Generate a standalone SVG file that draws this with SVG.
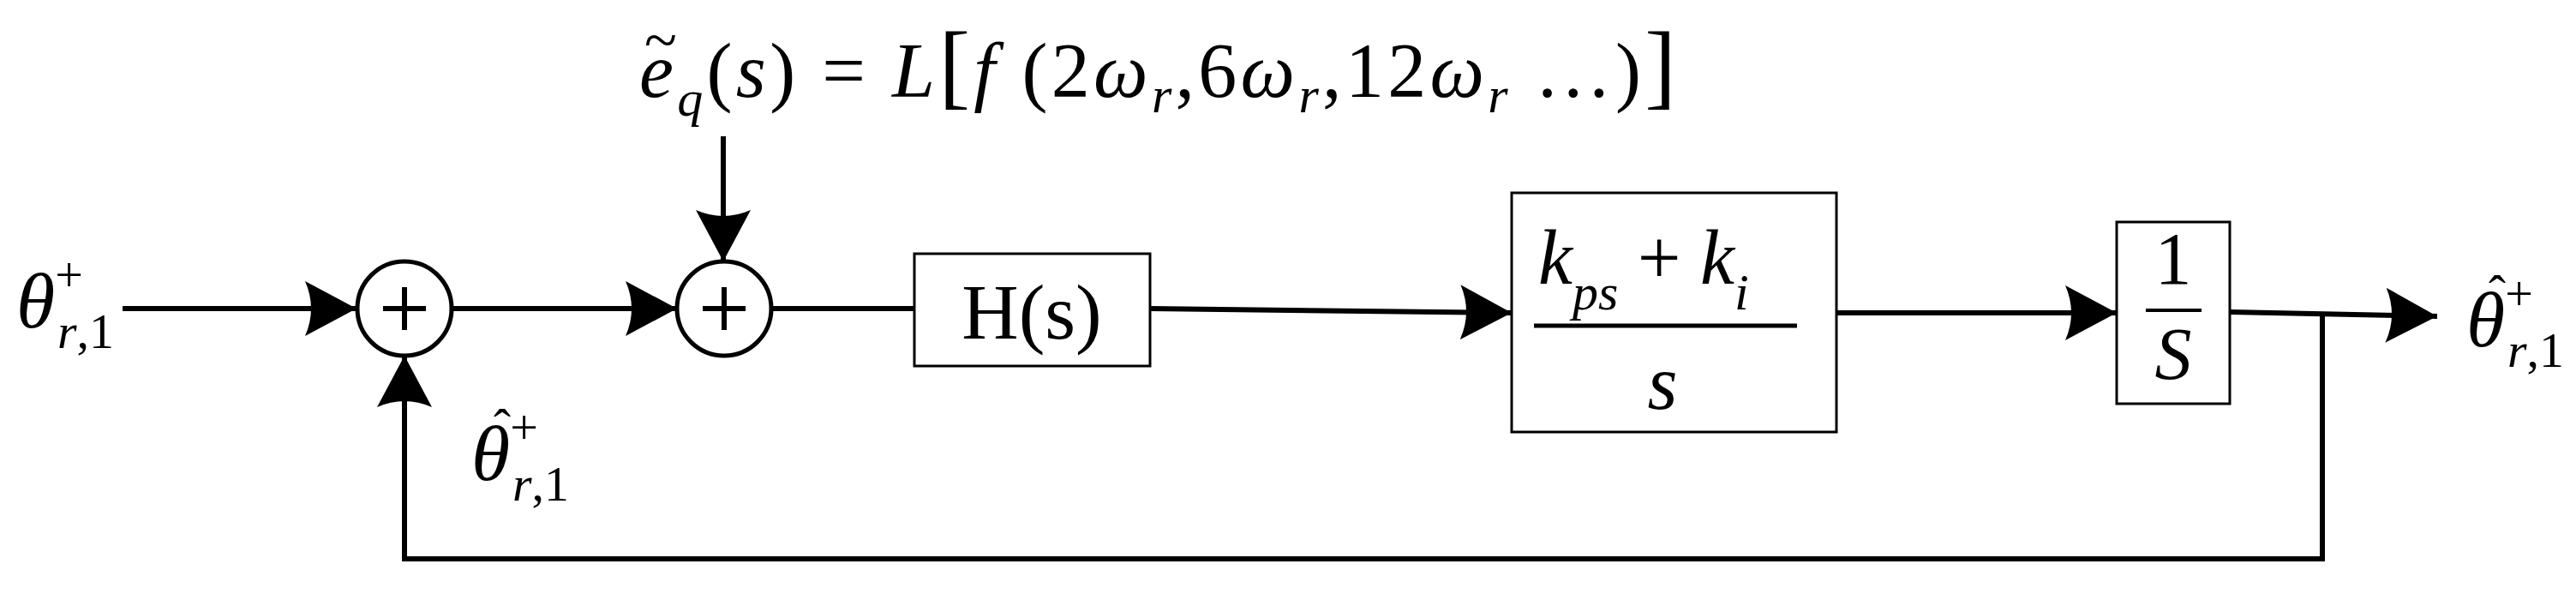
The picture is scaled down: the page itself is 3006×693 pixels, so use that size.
<svg xmlns="http://www.w3.org/2000/svg" width="3006" height="693" viewBox="0 0 3006 693">
<style>
.t{font-family:"Liberation Serif",serif;fill:#000}
.i{font-style:italic}
.c{fill:none;stroke:#000;stroke-width:6}
.b{fill:#fff;stroke:#000;stroke-width:3}
.s{fill:#fff;stroke:#000;stroke-width:5}
</style>
<defs>
<marker id="a" markerUnits="userSpaceOnUse" markerWidth="70" markerHeight="70" refX="60" refY="32" orient="auto">
<path d="M0,0 L60,32 L0,64 Q14,32 0,0 Z" fill="#000"/>
</marker>
</defs>
<g id="connectors">
<line class="c" x1="143" y1="360" x2="416" y2="360" marker-end="url(#a)"/>
<line class="c" x1="528" y1="360" x2="790" y2="360" marker-end="url(#a)"/>
<line class="c" x1="844" y1="159" x2="844" y2="305" marker-end="url(#a)"/>
<line class="c" x1="900" y1="360" x2="1067" y2="360"/>
<line class="c" x1="1342" y1="360" x2="1764" y2="365" marker-end="url(#a)"/>
<line class="c" x1="2143" y1="365" x2="2470" y2="365" marker-end="url(#a)"/>
<line class="c" x1="2602" y1="364" x2="2844" y2="369" marker-end="url(#a)"/>
<polyline class="c" points="2710,366 2710,652 472,652 472,415" marker-end="url(#a)"/>
</g>
<g id="sum1"><circle class="s" cx="472" cy="360" r="55"/><line class="c" x1="447" y1="360" x2="497" y2="360" stroke-width="3"/><line class="c" x1="472" y1="335" x2="472" y2="385" stroke-width="3"/></g>
<g id="sum2"><circle class="s" cx="845" cy="360" r="55"/><line class="c" x1="820" y1="360" x2="870" y2="360" stroke-width="3"/><line class="c" x1="845" y1="335" x2="845" y2="385" stroke-width="3"/></g>
<g id="H"><rect class="b" x="1067" y="296" width="275" height="131"/><text class="t" x="1204" y="395" font-size="92" text-anchor="middle">H(s)</text></g>
<g id="PI"><rect class="b" x="1764" y="225" width="379" height="279"/>
<text class="t" x="1795" y="331" font-size="90"><tspan class="i">k</tspan><tspan class="i" font-size="60" dy="30">ps</tspan><tspan dy="-30"> + </tspan><tspan class="i">k</tspan><tspan class="i" font-size="60" dy="30">i</tspan></text>
<line x1="1790" y1="380" x2="2097" y2="380" stroke="#000" stroke-width="5"/>
<text class="t i" x="1940" y="477" font-size="90" text-anchor="middle">s</text></g>
<g id="integ"><rect class="b" x="2470" y="259" width="132" height="212"/>
<text class="t" x="2536" y="331" font-size="86" text-anchor="middle">1</text>
<line x1="2504" y1="362" x2="2569" y2="362" stroke="#000" stroke-width="4"/>
<text class="t i" x="2536" y="442" font-size="86" text-anchor="middle">S</text></g>
<g id="in"><text class="t" x="19" y="382" font-size="92"><tspan class="i">θ</tspan><tspan font-size="58" dy="-42">+</tspan><tspan class="i" font-size="58" dx="-30" dy="66">r</tspan><tspan font-size="58">,1</tspan></text></g>
<g id="fb"><text class="t" x="550" y="560" font-size="92"><tspan class="i">θ</tspan><tspan font-size="58" dy="-42">+</tspan><tspan class="i" font-size="58" dx="-30" dy="66">r</tspan><tspan font-size="58">,1</tspan></text><text class="t" x="576" y="518" font-size="60">ˆ</text></g>
<g id="out"><text class="t" x="2878" y="404" font-size="92"><tspan class="i">θ</tspan><tspan font-size="58" dy="-42">+</tspan><tspan class="i" font-size="58" dx="-30" dy="66">r</tspan><tspan font-size="58">,1</tspan></text><text class="t" x="2904" y="362" font-size="60">ˆ</text></g>
<g id="eq">
<text class="t" x="752" y="70" font-size="70">~</text>
<text class="t" x="746" y="113" font-size="90" textLength="1210" lengthAdjust="spacing"><tspan class="i">e</tspan><tspan class="i" font-size="60" dy="22">q</tspan><tspan dy="-22">(</tspan><tspan class="i">s</tspan><tspan>) = </tspan><tspan class="i">L</tspan><tspan font-size="110">[</tspan><tspan class="i">f</tspan><tspan> (2</tspan><tspan class="i">ω</tspan><tspan class="i" font-size="60" dy="18">r</tspan><tspan dy="-18">,6</tspan><tspan class="i">ω</tspan><tspan class="i" font-size="60" dy="18">r</tspan><tspan dy="-18">,12</tspan><tspan class="i">ω</tspan><tspan class="i" font-size="60" dy="18">r</tspan><tspan dy="-18"> …)</tspan><tspan font-size="110">]</tspan></text>
</g>
</svg>
